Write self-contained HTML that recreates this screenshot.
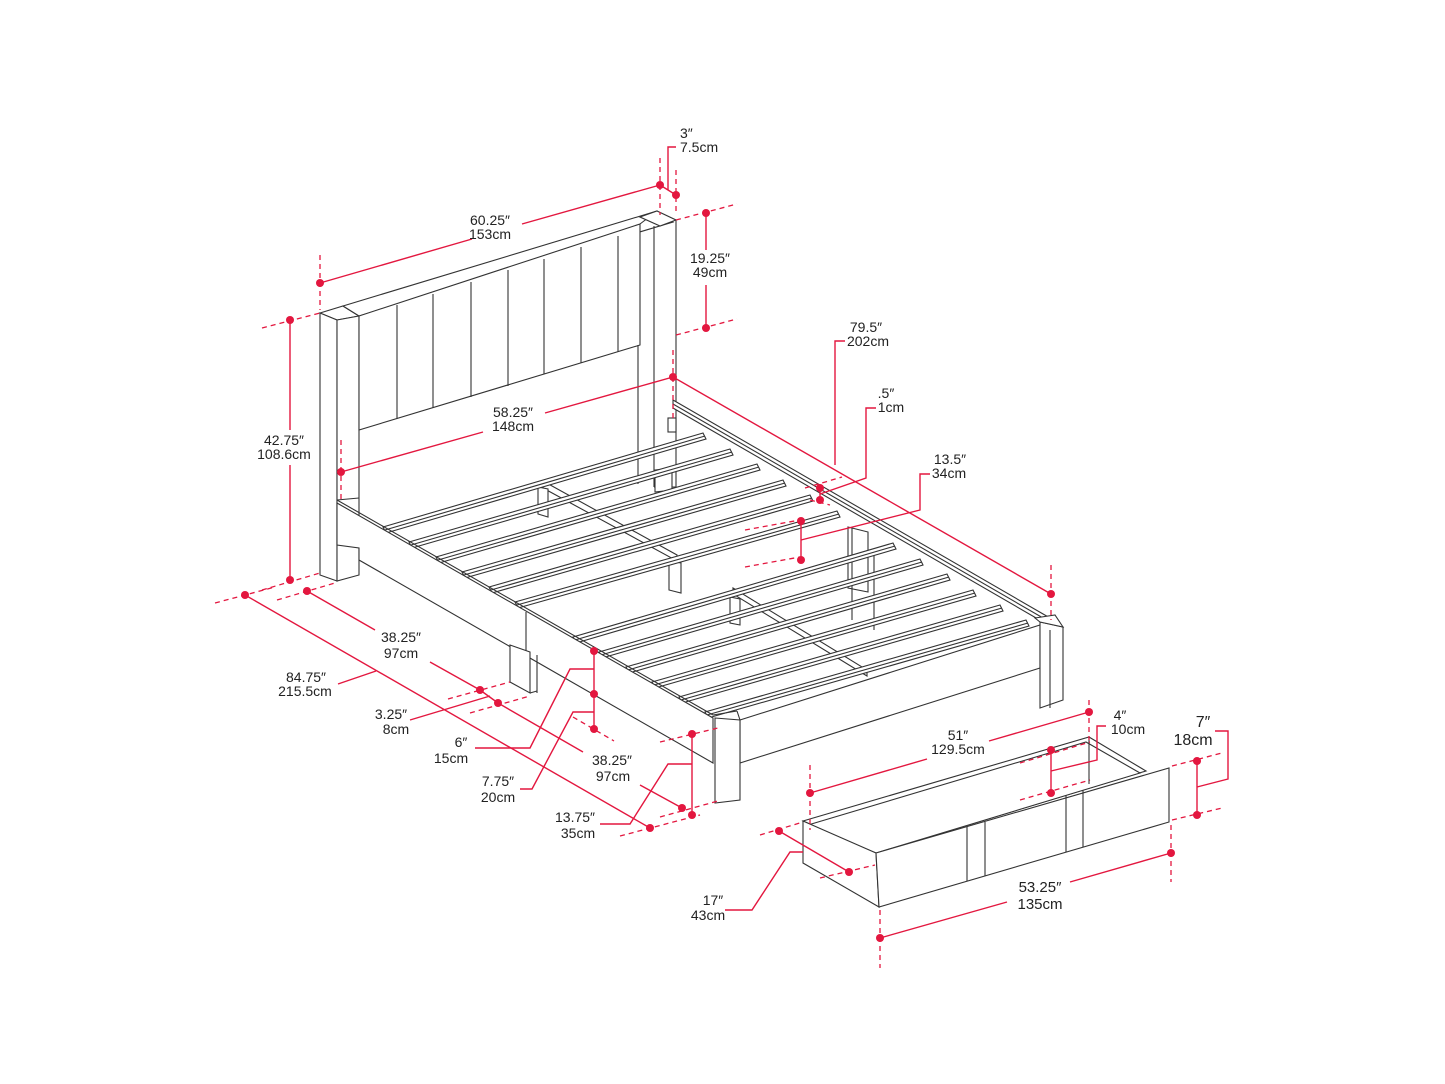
<!DOCTYPE html>
<html><head><meta charset="utf-8"><style>
html,body{margin:0;padding:0;background:#fff}
svg{display:block}
text{font-family:"Liberation Sans",sans-serif;font-size:14px;fill:#222;text-anchor:middle}
.b{stroke:#333;stroke-width:1.1;fill:none}
.bf{stroke:#333;stroke-width:1.1;fill:#fff}
.r{stroke:#e3173f;stroke-width:1.4;fill:none}
.d{stroke:#e3173f;stroke-width:1.3;fill:none;stroke-dasharray:5,4}
.dot{fill:#e3173f}
</style></head><body>
<svg width="1445" height="1084" viewBox="0 0 1445 1084" xmlns="http://www.w3.org/2000/svg">
<!-- headboard -->
<g>
<polygon class="bf" points="320,313 343,306 359,316 337,320"/>
<polygon class="bf" points="320,313 337,320 337,581 320,575"/>
<polygon class="bf" points="337,320 359,316 359,575 337,581"/>
<polygon class="bf" points="343,306 657,211 673,222 359,316"/>
<polygon class="bf" points="359,316 640,224 640,345 359,430"/>
<line class="b" x1="640" y1="224" x2="657" y2="211"/>
<polygon class="bf" points="640,217 657,211 676,220 660,226"/>
<line class="b" x1="676" y1="220" x2="676" y2="487"/>
<line class="b" x1="654" y1="226" x2="654" y2="487"/>
<line class="b" x1="638" y1="345" x2="638" y2="484"/>
<line class="b" x1="654" y1="487" x2="676" y2="487"/>
<g class="b">
<line x1="397" y1="305" x2="397" y2="419"/><line x1="433" y1="294" x2="433" y2="408"/>
<line x1="471" y1="282" x2="471" y2="397"/><line x1="508" y1="270" x2="508" y2="386"/>
<line x1="544" y1="259" x2="544" y2="374"/><line x1="581" y1="247" x2="581" y2="363"/>
<line x1="618" y1="236" x2="618" y2="352"/>
</g>
</g>
<!-- right side rail -->
<polygon class="bf" points="673,400 1050,618 1050,626 673,408"/>
<line class="b" x1="673" y1="404" x2="1050" y2="622"/>
<rect class="bf" x="668" y="418" width="8" height="14"/>
<!-- mid post bracket -->
<polygon class="bf" points="848,527 868,532 868,592 848,588"/>
<line class="b" x1="852" y1="528" x2="852" y2="620"/>
<line class="b" x1="874" y1="550" x2="874" y2="630"/>
<!-- beams under slats -->
<g class="b">
<polygon class="bf" points="543,481 677,555 677,561 543,488"/>
<polygon class="bf" points="538,487 548,489 548,517 538,514"/>
<polygon class="bf" points="669,561 681,563 681,593 669,590"/>
<polygon class="bf" points="733,588 867,670 867,676 733,594"/>
<polygon class="bf" points="730,597 740,599 740,625 730,623"/>
<polygon class="bf" points="655,470 672,468 672,490 655,492"/>
</g>
<!-- slats -->
<g class="b">
<polygon class="bf" points="383,527 703,433 706,439 386,533"/><line x1="385" y1="530" x2="705" y2="436"/>
<polygon class="bf" points="409,542 730,449 733,455 412,548"/><line x1="411" y1="545" x2="732" y2="452"/>
<polygon class="bf" points="436,557 757,464 760,470 439,563"/><line x1="438" y1="560" x2="759" y2="467"/>
<polygon class="bf" points="462,572 783,480 786,486 465,578"/><line x1="464" y1="575" x2="785" y2="483"/>
<polygon class="bf" points="489,587 810,495 813,501 492,593"/><line x1="491" y1="590" x2="812" y2="498"/>
<polygon class="bf" points="515,602 837,511 840,517 518,608"/><line x1="517" y1="605" x2="839" y2="514"/>
<polygon class="bf" points="573,637 893,543 896,549 576,643"/><line x1="575" y1="640" x2="895" y2="546"/>
<polygon class="bf" points="599,652 920,559 923,565 602,658"/><line x1="601" y1="655" x2="922" y2="562"/>
<polygon class="bf" points="626,667 947,574 950,580 629,673"/><line x1="628" y1="670" x2="949" y2="577"/>
<polygon class="bf" points="652,682 973,590 976,596 655,688"/><line x1="654" y1="685" x2="975" y2="593"/>
<polygon class="bf" points="679,697 1000,605 1003,611 682,703"/><line x1="681" y1="700" x2="1002" y2="608"/>
<polygon class="bf" points="705,712 1026,620 1029,626 708,718"/><line x1="707" y1="715" x2="1028" y2="623"/>
</g>
<!-- left rail -->
<polygon class="bf" points="337,503 713,718 713,763 359,560 359,548 337,545"/>
<line class="b" x1="337" y1="500" x2="713" y2="715"/>
<line class="b" x1="337" y1="500" x2="359" y2="498"/>
<line class="b" x1="526" y1="612" x2="526" y2="655"/>
<polygon class="bf" points="510,645 530,652 530,693 510,682"/>
<line class="b" x1="537" y1="655" x2="537" y2="693"/><line class="b" x1="530" y1="693" x2="537" y2="691"/>
<!-- foot rail -->
<polygon class="bf" points="740,720 1040,625 1040,668 740,763"/>
<polygon class="bf" points="715,718 740,720 740,800 715,803"/>
<line class="b" x1="713" y1="715" x2="737" y2="711"/><line class="b" x1="737" y1="711" x2="740" y2="720"/>
<polygon class="bf" points="1040,622 1063,627 1063,700 1040,708"/>
<polygon class="bf" points="1035,618 1055,615 1063,627 1040,622"/>
<line class="b" x1="1050" y1="630" x2="1050" y2="708"/>
<!-- drawer -->
<g>
<polygon class="bf" points="803,821 1089,737 1146,771 876,853"/>
<polygon class="bf" points="808,825 1086,742 1140,773 876,853"/>
<polygon class="bf" points="803,821 876,853 879,907 803,863"/>
<polygon class="bf" points="876,853 1169,768 1169,822 879,907"/>
<line class="b" x1="1089" y1="737" x2="1089" y2="784"/>
<g class="b"><line x1="967" y1="827" x2="967" y2="881"/><line x1="985" y1="822" x2="985" y2="876"/>
<line x1="1066" y1="795" x2="1066" y2="852"/><line x1="1083" y1="790" x2="1083" y2="847"/></g>
</g>
<!-- red dims -->
<g class="d">
<line x1="320" y1="255" x2="320" y2="310"/><line x1="660" y1="158" x2="660" y2="215"/><line x1="676" y1="170" x2="676" y2="215"/>
<line x1="676" y1="220" x2="737" y2="204"/><line x1="676" y1="335" x2="737" y2="319"/>
<line x1="262" y1="328" x2="320" y2="313"/><line x1="262" y1="590" x2="320" y2="573"/>
<line x1="341" y1="440" x2="341" y2="500"/><line x1="673" y1="350" x2="673" y2="420"/>
<line x1="1051" y1="565" x2="1051" y2="620"/>
<line x1="215" y1="603" x2="275" y2="587"/><line x1="277" y1="600" x2="335" y2="583"/>
<line x1="448" y1="699" x2="510" y2="682"/><line x1="470" y1="713" x2="530" y2="696"/>
<line x1="573" y1="717" x2="614" y2="741"/>
<line x1="660" y1="742" x2="718" y2="728"/><line x1="660" y1="817" x2="718" y2="801"/><line x1="620" y1="836" x2="700" y2="815"/>
<line x1="805" y1="488" x2="842" y2="477"/><line x1="810" y1="500" x2="830" y2="505"/>
<line x1="745" y1="530" x2="800" y2="520"/><line x1="745" y1="567" x2="800" y2="557"/>
<line x1="810" y1="765" x2="810" y2="830"/><line x1="1089" y1="700" x2="1089" y2="740"/>
<line x1="760" y1="835" x2="803" y2="822"/><line x1="820" y1="878" x2="875" y2="865"/>
<line x1="1020" y1="763" x2="1090" y2="742"/><line x1="1020" y1="800" x2="1090" y2="780"/>
<line x1="1172" y1="766" x2="1222" y2="753"/><line x1="1172" y1="820" x2="1222" y2="808"/>
<line x1="880" y1="910" x2="880" y2="968"/><line x1="1171" y1="825" x2="1171" y2="882"/>
</g>
<g class="r">
<line x1="320" y1="283" x2="472" y2="239"/><line x1="522" y1="224" x2="660" y2="185"/>
<line x1="660" y1="185" x2="676" y2="195"/>
<polyline points="668,190 668,147 676,147"/>
<line x1="706" y1="213" x2="706" y2="250"/><line x1="706" y1="285" x2="706" y2="328"/>
<line x1="290" y1="320" x2="290" y2="430"/><line x1="290" y1="465" x2="290" y2="580"/>
<line x1="341" y1="472" x2="483" y2="432"/><line x1="545" y1="413" x2="673" y2="377"/>
<line x1="673" y1="377" x2="1051" y2="594"/>
<polyline points="835,465 835,341 845,341"/>
<line x1="820" y1="488" x2="820" y2="500"/><polyline points="820,494 866,478 866,408 876,408"/>
<line x1="801" y1="521" x2="801" y2="560"/><polyline points="801,540 920,510 920,474 930,474"/>
<line x1="245" y1="595" x2="650" y2="828"/><line x1="338" y1="684" x2="376" y2="671"/>
<line x1="307" y1="591" x2="375" y2="630"/><line x1="430" y1="662" x2="480" y2="690"/>
<line x1="480" y1="690" x2="498" y2="703"/><line x1="410" y1="720" x2="490" y2="696"/>
<line x1="498" y1="703" x2="583" y2="752"/><line x1="640" y1="785" x2="682" y2="808"/>
<line x1="594" y1="651" x2="594" y2="729"/>
<polyline points="594,669 570,669 530,748 475,748"/>
<polyline points="594,712 573,712 532,789 520,789"/>
<line x1="692" y1="734" x2="692" y2="815"/>
<polyline points="692,764 668,764 630,824 600,824"/>
<line x1="810" y1="793" x2="927" y2="759"/><line x1="989" y1="741" x2="1089" y2="712"/>
<line x1="1051" y1="750" x2="1051" y2="793"/><polyline points="1051,771 1097,760 1097,726 1106,726"/>
<line x1="1197" y1="761" x2="1197" y2="815"/><polyline points="1197,787 1228,779 1228,731 1215,731"/>
<line x1="779" y1="831" x2="849" y2="872"/><polyline points="725,910 752,910 790,852 803,852"/>
<line x1="880" y1="938" x2="1007" y2="902"/><line x1="1070" y1="882" x2="1171" y2="853"/>
</g>
<g class="dot">
<circle cx="320" cy="283" r="4"/><circle cx="660" cy="185" r="4"/><circle cx="676" cy="195" r="4"/>
<circle cx="706" cy="213" r="4"/><circle cx="706" cy="328" r="4"/>
<circle cx="290" cy="320" r="4"/><circle cx="290" cy="580" r="4"/>
<circle cx="341" cy="472" r="4"/><circle cx="673" cy="377" r="4"/><circle cx="1051" cy="594" r="4"/>
<circle cx="820" cy="488" r="4"/><circle cx="820" cy="500" r="4"/>
<circle cx="801" cy="521" r="4"/><circle cx="801" cy="560" r="4"/>
<circle cx="245" cy="595" r="4"/><circle cx="307" cy="591" r="4"/><circle cx="480" cy="690" r="4"/><circle cx="498" cy="703" r="4"/>
<circle cx="682" cy="808" r="4"/><circle cx="650" cy="828" r="4"/>
<circle cx="594" cy="651" r="4"/><circle cx="594" cy="694" r="4"/><circle cx="594" cy="729" r="4"/>
<circle cx="692" cy="734" r="4"/><circle cx="692" cy="815" r="4"/>
<circle cx="810" cy="793" r="4"/><circle cx="1089" cy="712" r="4"/>
<circle cx="1051" cy="750" r="4"/><circle cx="1051" cy="793" r="4"/>
<circle cx="1197" cy="761" r="4"/><circle cx="1197" cy="815" r="4"/>
<circle cx="779" cy="831" r="4"/><circle cx="849" cy="872" r="4"/>
<circle cx="880" cy="938" r="4"/><circle cx="1171" cy="853" r="4"/>
</g>
<!-- labels -->
<text x="490" y="225">60.25″</text><text x="490" y="239">153cm</text>
<text x="680" y="138" style="text-anchor:start">3″</text><text x="680" y="152" style="text-anchor:start">7.5cm</text>
<text x="710" y="263">19.25″</text><text x="710" y="277">49cm</text>
<text x="284" y="445">42.75″</text><text x="284" y="459">108.6cm</text>
<text x="513" y="417">58.25″</text><text x="513" y="431">148cm</text>
<text x="866" y="332">79.5″</text><text x="868" y="346">202cm</text>
<text x="886" y="398">.5″</text><text x="891" y="412">1cm</text>
<text x="950" y="464">13.5″</text><text x="949" y="478">34cm</text>
<text x="306" y="682">84.75″</text><text x="305" y="696">215.5cm</text>
<text x="401" y="642">38.25″</text><text x="401" y="658">97cm</text>
<text x="391" y="719">3.25″</text><text x="396" y="734">8cm</text>
<text x="461" y="747">6″</text><text x="451" y="763">15cm</text>
<text x="498" y="786">7.75″</text><text x="498" y="802">20cm</text>
<text x="612" y="765">38.25″</text><text x="613" y="781">97cm</text>
<text x="575" y="822">13.75″</text><text x="578" y="838">35cm</text>
<text x="958" y="740">51″</text><text x="958" y="754">129.5cm</text>
<text x="1120" y="720">4″</text><text x="1128" y="734">10cm</text>
<text x="1203" y="727" style="font-size:16px">7″</text><text x="1193" y="745" style="font-size:16px">18cm</text>
<text x="713" y="905">17″</text><text x="708" y="920">43cm</text>
<text x="1040" y="892" style="font-size:15px">53.25″</text><text x="1040" y="909" style="font-size:15px">135cm</text>
</svg>
</body></html>
